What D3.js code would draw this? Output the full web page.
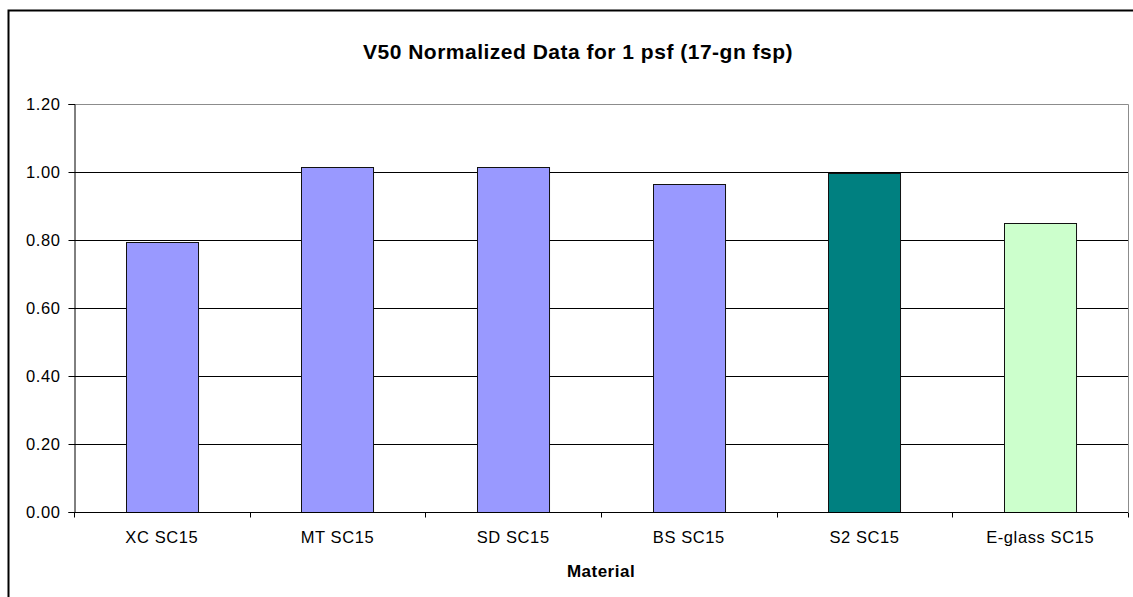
<!DOCTYPE html>
<html>
<head>
<meta charset="utf-8">
<script src="https://cdn.jsdelivr.net/npm/d3@7"></script>
<style>
  body { margin: 0; background: #fff; }
  svg { display: block; font-family: Arial, "Liberation Sans", sans-serif; }
</style>
</head>
<body>
<svg width="1133" height="597"></svg>
<script>
// chart values
var materials = ["XC SC15", "MT SC15", "SD SC15", "BS SC15", "S2 SC15", "E-glass SC15"];
var v50Norm = [0.795, 1.014, 1.014, 0.965, 0.997, 0.849];
var barColors = ["#9999ff", "#9999ff", "#9999ff", "#9999ff", "#008080", "#ccffcc"];
var yTicks = [0, 0.2, 0.4, 0.6, 0.8, 1.0, 1.2];
var chartTitle = "V50 Normalized Data for 1 psf (17-gn fsp)";
var xTitle = "Material";

var margin = {top: 104, left: 74, right: 5, bottom: 85},
    width = 1133 - margin.left - margin.right,
    height = 597 - margin.top - margin.bottom;

var svg = d3.select("svg");

// outer chart border (runs off the right/bottom edge)
svg.append("rect")
  .attr("x", 8.5).attr("y", 10.5)
  .attr("width", 1200).attr("height", 700)
  .attr("fill", "none")
  .attr("stroke", "#000")
  .attr("stroke-width", 2);

var x = d3.scaleBand()
  .domain(materials)
  .range([0, width])
  .paddingInner(0.59)
  .paddingOuter(0.295);

var y = d3.scaleLinear()
  .domain([0, 1.2])
  .range([height, 0]);

var g = svg.append("g")
  .attr("transform", "translate(" + margin.left + "," + margin.top + ")");

// plot area border: gray top and right
g.append("path")
  .attr("d", "M0,0.5H" + (width + 0.5) + "V" + height)
  .attr("fill", "none")
  .attr("stroke", "#8c8c8c")
  .attr("stroke-width", 1);

// gridlines
g.selectAll(".grid")
  .data(yTicks.filter(function(d) { return d > 0 && d < 1.2; }))
  .enter().append("line")
  .attr("x1", 0).attr("x2", width)
  .attr("y1", function(d) { return Math.round(y(d)) + 0.5; })
  .attr("y2", function(d) { return Math.round(y(d)) + 0.5; })
  .attr("stroke", "#000");

// bars
g.selectAll(".bar")
  .data(v50Norm)
  .enter().append("rect")
  .attr("x", function(d, i) { return Math.round(x(materials[i])) + 0.5; })
  .attr("y", function(d) { return Math.round(y(d)) + 0.5; })
  .attr("width", x.bandwidth())
  .attr("height", function(d) { return height - Math.round(y(d)); })
  .attr("fill", function(d, i) { return barColors[i]; })
  .attr("stroke", "#111")
  .attr("stroke-width", 1);

// y axis
var leftAxis = d3.axisLeft(y)
  .tickValues(yTicks)
  .tickFormat(d3.format(".2f"))
  .tickSize(6)
  .tickPadding(8);

var ya = g.append("g").attr("transform", "translate(0.5,0)").call(leftAxis);
ya.select(".domain").attr("stroke", "#000");
ya.selectAll(".tick line").attr("stroke", "#000");
ya.selectAll("text")
  .attr("font-size", "16.5px")
  .attr("letter-spacing", "0.6px")
  .attr("fill", "#000");

// x axis (ticks at category boundaries)
var bottomAxis = d3.axisBottom(x).tickSize(0).tickPadding(19);
var xa = g.append("g").attr("transform", "translate(0," + (height + 0.5) + ")").call(bottomAxis);
xa.select(".domain").remove();
xa.append("line").attr("x1", 0).attr("x2", width).attr("stroke", "#000");
xa.selectAll(".tick text")
  .attr("font-size", "16.5px")
  .attr("letter-spacing", "0.6px")
  .attr("fill", "#000");
xa.selectAll(".bound")
  .data(d3.range(materials.length + 1))
  .enter().append("line")
  .attr("x1", function(i) { return Math.round(i * x.step()) + 0.5; })
  .attr("x2", function(i) { return Math.round(i * x.step()) + 0.5; })
  .attr("y1", 0).attr("y2", 5)
  .attr("stroke", "#000");

// titles
svg.append("text")
  .attr("x", 578).attr("y", 59)
  .attr("text-anchor", "middle")
  .attr("font-size", "21px")
  .attr("font-weight", "bold")
  .attr("letter-spacing", "0.5px")
  .text(chartTitle);

svg.append("text")
  .attr("x", margin.left + width / 2).attr("y", 577)
  .attr("text-anchor", "middle")
  .attr("font-size", "17px")
  .attr("font-weight", "bold")
  .attr("letter-spacing", "0.5px")
  .text(xTitle);
</script>
</body>
</html>
